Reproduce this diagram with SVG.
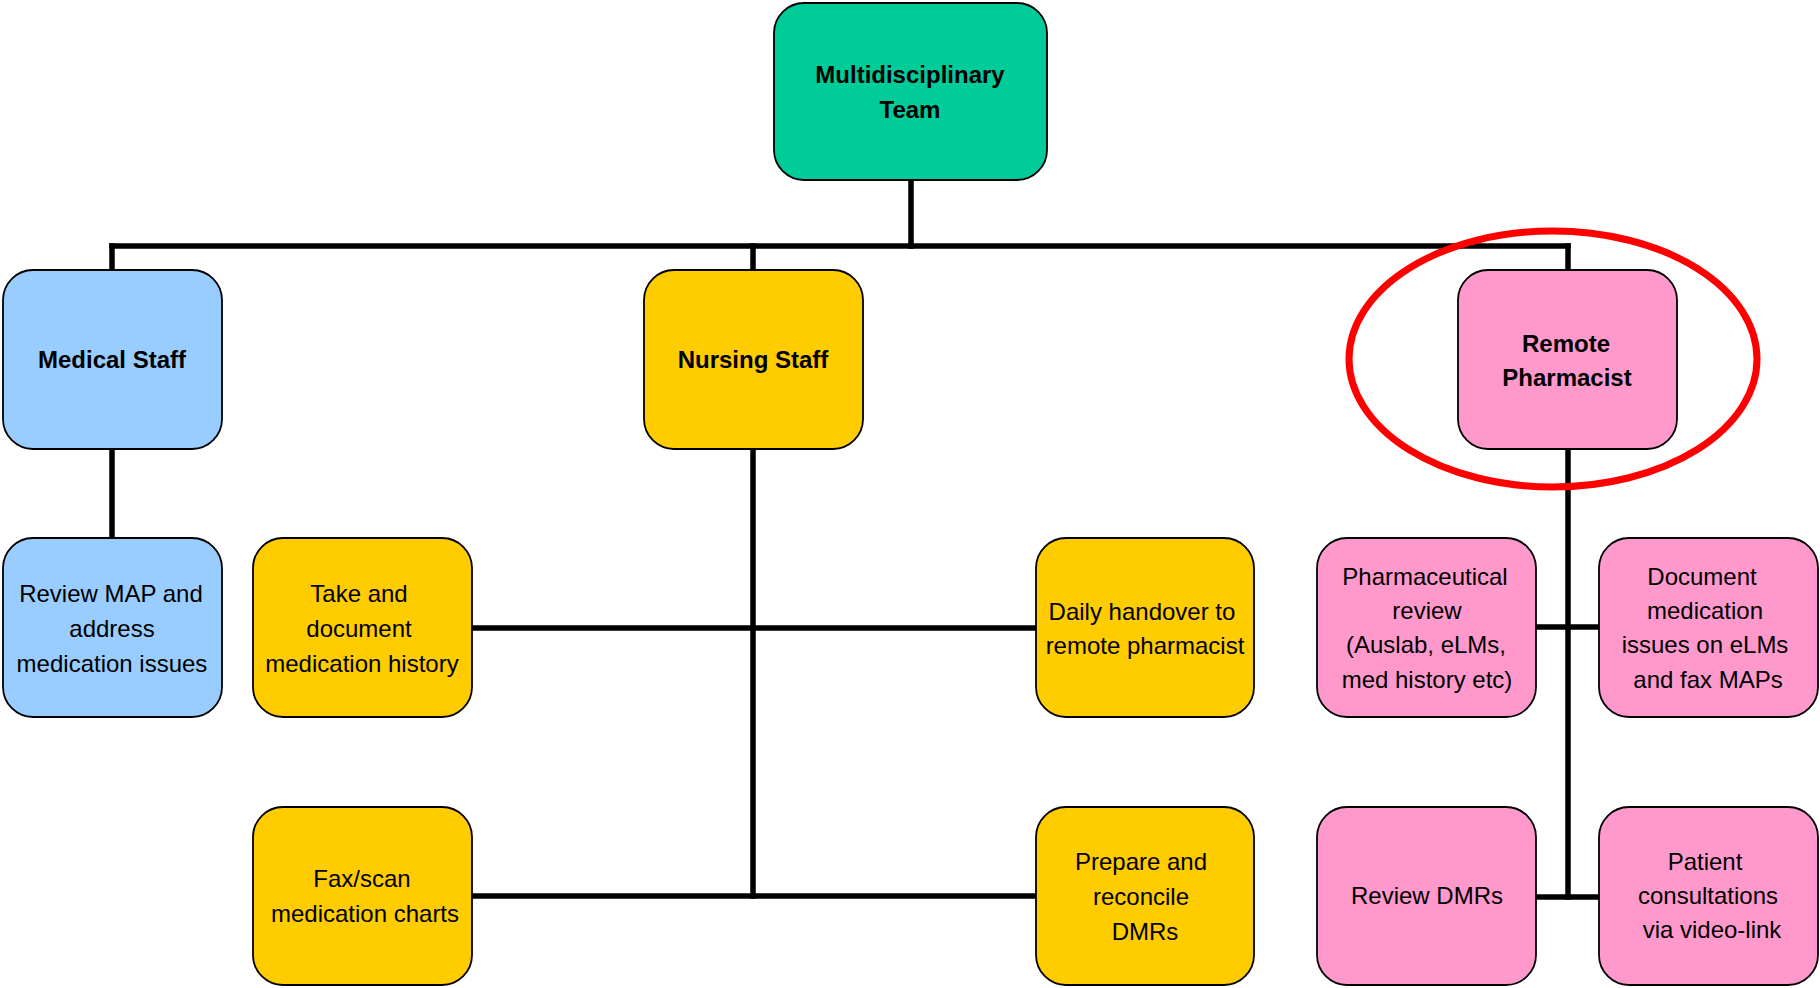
<svg xmlns="http://www.w3.org/2000/svg" width="1820" height="988" viewBox="0 0 1820 988">
<style>
.box{stroke:#000;stroke-width:1.8}
.teal{fill:#00CC99}.blue{fill:#99CCFF}.yellow{fill:#FFCC00}.pink{fill:#FF99CC}
text{font-family:"Liberation Sans",Arial,sans-serif;font-size:24px;fill:#000;text-anchor:middle}
.b{font-weight:bold}
.conn line{stroke:#000;stroke-width:5.5;stroke-linecap:square}
</style>
<rect width="1820" height="988" fill="#fff"/>
<g class="conn">
<line x1="911" y1="180" x2="911" y2="246"/>
<line x1="112" y1="246" x2="1568" y2="246"/>
<line x1="112" y1="246" x2="112" y2="270"/>
<line x1="753" y1="246" x2="753" y2="270"/>
<line x1="1568" y1="246" x2="1568" y2="270"/>
<line x1="112" y1="449" x2="112" y2="538"/>
<line x1="753" y1="449" x2="753" y2="896"/>
<line x1="472" y1="628" x2="1036" y2="628"/>
<line x1="472" y1="896" x2="1036" y2="896"/>
<line x1="1568" y1="449" x2="1568" y2="897"/>
<line x1="1536" y1="627" x2="1599" y2="627"/>
<line x1="1536" y1="897" x2="1599" y2="897"/>
</g>
<g id="mdt"><rect class="box teal" x="774" y="3" width="273" height="177" rx="30"/><text class="b" x="910" y="83">Multidisciplinary</text><text class="b" x="910" y="118">Team</text></g>
<g id="medical"><rect class="box blue" x="3" y="270" width="219" height="179" rx="30"/><text class="b" x="112" y="368">Medical Staff</text></g>
<g id="nursing"><rect class="box yellow" x="644" y="270" width="219" height="179" rx="30"/><text class="b" x="753" y="368">Nursing Staff</text></g>
<g id="pharmacist"><rect class="box pink" x="1458" y="270" width="219" height="179" rx="30"/><text class="b" x="1566" y="352">Remote</text><text class="b" x="1567" y="386">Pharmacist</text></g>
<g id="reviewmap"><rect class="box blue" x="3" y="538" width="219" height="179" rx="30"/><text x="111" y="602">Review MAP and</text><text x="112" y="637">address</text><text x="112" y="672">medication issues</text></g>
<g id="takehistory"><rect class="box yellow" x="253" y="538" width="219" height="179" rx="30"/><text x="359" y="602">Take and</text><text x="359" y="637">document</text><text x="362" y="672">medication history</text></g>
<g id="handover"><rect class="box yellow" x="1036" y="538" width="218" height="179" rx="30"/><text x="1142" y="620">Daily handover to</text><text x="1145" y="654">remote pharmacist</text></g>
<g id="pharmreview"><rect class="box pink" x="1317" y="538" width="219" height="179" rx="30"/><text x="1425" y="585">Pharmaceutical</text><text x="1427" y="619">review</text><text x="1426" y="653">(Auslab, eLMs,</text><text x="1427" y="688">med history etc)</text></g>
<g id="docissues"><rect class="box pink" x="1599" y="538" width="219" height="179" rx="30"/><text x="1702" y="585">Document</text><text x="1705" y="619">medication</text><text x="1705" y="653">issues on eLMs</text><text x="1708" y="688">and fax MAPs</text></g>
<g id="faxscan"><rect class="box yellow" x="253" y="807" width="219" height="178" rx="30"/><text x="362" y="887">Fax/scan</text><text x="365" y="922">medication charts</text></g>
<g id="prepare"><rect class="box yellow" x="1036" y="807" width="218" height="178" rx="30"/><text x="1141" y="870">Prepare and</text><text x="1141" y="905">reconcile</text><text x="1145" y="940">DMRs</text></g>
<g id="reviewdmrs"><rect class="box pink" x="1317" y="807" width="219" height="178" rx="30"/><text x="1427" y="904">Review DMRs</text></g>
<g id="consult"><rect class="box pink" x="1599" y="807" width="219" height="178" rx="30"/><text x="1705" y="870">Patient</text><text x="1708" y="904">consultations</text><text x="1712" y="938">via video-link</text></g>
<g id="highlight"><ellipse cx="1553" cy="359" rx="204" ry="128" fill="none" stroke="#FF0000" stroke-width="7"/></g>
</svg>
